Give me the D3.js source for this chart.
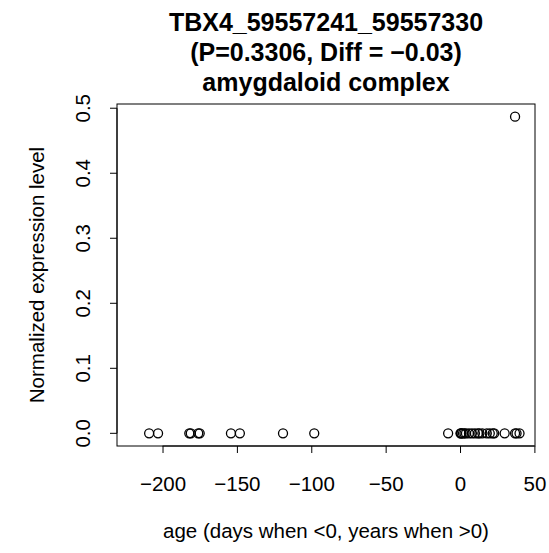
<!DOCTYPE html>
<html>
<head>
<meta charset="utf-8">
<script src="https://cdn.jsdelivr.net/npm/d3@7"></script>
<style>
body{margin:0;background:#fff;}
text{font-family:"Liberation Sans",Arial,Helvetica,sans-serif;}
</style>
</head>
<body>
<svg id="chart" width="549" height="553"></svg>
<script>
const titleLines = ["TBX4_59557241_59557330", "(P=0.3306, Diff = \u22120.03)", "amygdaloid complex"];
const xLabel = "age (days when <0, years when >0)";
const yLabel = "Normalized expression level";
const xTicks = [-200, -150, -100, -50, 0, 50];
const yTicks = [0.0, 0.1, 0.2, 0.3, 0.4, 0.5];
const ages = [-209, -203, -182, -181, -176, -175, -154, -148, -119, -98,
  -8, 0.3, 0.6, 1, 2, 3, 4, 6, 8, 10, 12, 13, 15, 18, 20, 22, 23, 30, 37, 38, 40, 37];
const values = [0,0,0,0,0,0,0,0,0,0,
  0,0,0,0,0,0,0,0,0,0,0,0,0,0,0,0,0,0,0,0,0,0.487];

const svg = d3.select("#chart");
const pL = 117, pR = 535, pT = 104, pB = 446;
const axisFont = 20.5, titleFont = 25;
const x = d3.scaleLinear().domain([-230.6, 50.4]).range([pL, pR]);
const y = d3.scaleLinear().domain([-0.0195, 0.5065]).range([pB, pT]);

svg.append("rect").attr("x", pL).attr("y", pT).attr("width", pR-pL).attr("height", pB-pT)
  .attr("fill", "none").attr("stroke", "#000").attr("stroke-width", 1);

const xAxis = svg.append("g").attr("transform", `translate(0,${pB})`)
  .call(d3.axisBottom(x).tickValues(xTicks).tickSize(7).tickPadding(23)
    .tickFormat(d => d < 0 ? "\u2212" + Math.abs(d) : String(d)));
xAxis.select(".domain").attr("d", `M${x(-200)},0H${x(50)}`).attr("stroke","#000");
xAxis.selectAll("text").attr("font-size", axisFont).attr("fill", "#000").style("font-family","Liberation Sans, Arial, sans-serif");

const yAxis = svg.append("g").attr("transform", `translate(${pL},0)`)
  .call(d3.axisLeft(y).tickValues(yTicks).tickSize(7).tickFormat(d3.format(".1f")));
yAxis.select(".domain").attr("d", `M0,${y(0)}V${y(0.5)}`).attr("stroke","#000");
yAxis.selectAll(".tick").attr("transform", null);
yAxis.selectAll(".tick line").attr("y1", d => y(d)).attr("y2", d => y(d));
yAxis.selectAll(".tick text").attr("font-size", axisFont).attr("fill", "#000")
  .attr("transform", d => `translate(-27,${y(d)}) rotate(-90)`)
  .attr("x", 0).attr("y", 0).attr("dy", 0)
  .attr("text-anchor", "middle").style("font-family","Liberation Sans, Arial, sans-serif");

svg.append("g").selectAll("circle").data(ages).join("circle")
  .attr("cx", d => x(d)).attr("cy", (d, i) => y(values[i]))
  .attr("r", 4.5).attr("fill", "none").attr("stroke", "#000").attr("stroke-width", 1.3);

const cx = (pL + pR) / 2;
svg.append("g").selectAll("text").data(titleLines).join("text")
  .attr("x", cx).attr("y", (d, i) => 31 + i * 30)
  .attr("text-anchor", "middle").attr("font-weight", "bold").attr("font-size", titleFont)
  .text(d => d);

svg.append("text").attr("x", cx).attr("y", 538).attr("text-anchor", "middle")
  .attr("font-size", axisFont).text(xLabel);
svg.append("text").attr("transform", `translate(44,${(pT+pB)/2}) rotate(-90)`)
  .attr("text-anchor", "middle").attr("font-size", axisFont).text(yLabel);
</script>
</body>
</html>
